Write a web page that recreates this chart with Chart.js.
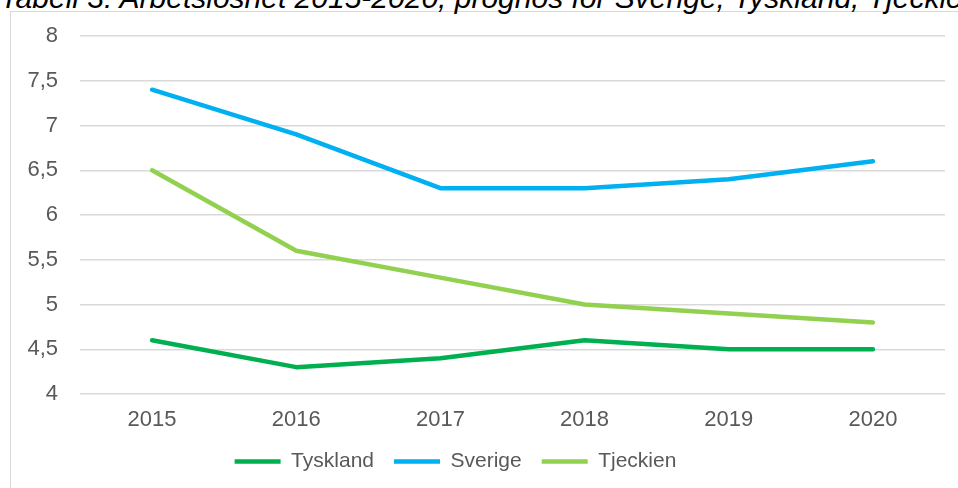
<!DOCTYPE html>
<html>
<head>
<meta charset="utf-8">
<script src="https://cdn.jsdelivr.net/npm/chart.js@4/dist/chart.umd.min.js"></script>
<style>
    html, body {
        margin: 0;
        padding: 0;
        background: #fff;
        overflow: hidden;
    }
    .wrap {
        position: relative;
        width: 958px;
        height: 488px;
        overflow: hidden;
    }
    .frame {
        position: absolute;
        left: 10px;
        top: 11px;
        width: 1000px;
        height: 600px;
        border: 1.5px solid #d9d9d9;
    }
    .title {
        position: absolute;
        left: 0;
        top: -17px;
        font-family: "Liberation Sans", Arial, sans-serif;
        font-style: italic;
        font-size: 30px;
        line-height: 30px;
        color: #000;
        white-space: nowrap;
    }
    canvas {
        position: absolute;
        left: 0;
        top: 0;
    }
</style>
</head>
<body>
<div class="wrap">
    <div class="frame"></div>
    <div class="title">Tabell 3: Arbetslöshet 2015-2020, prognos för Sverige, Tyskland, Tjeckien</div>
    <canvas id="lineChart" width="958" height="488"></canvas>
</div>

<script>
// Data
const years = ['2015', '2016', '2017', '2018', '2019', '2020'];
const tyskland = [4.6, 4.3, 4.4, 4.6, 4.5, 4.5];
const sverige = [7.4, 6.9, 6.3, 6.3, 6.4, 6.6];
const tjeckien = [6.5, 5.6, 5.3, 5.0, 4.9, 4.8];
const yMin = 4;
const yMax = 8;
const yStep = 0.5;

const textColor = '#595959';
const fontFamily = '"Liberation Sans", Arial, sans-serif';

function lineSet(label, data, color) {
    return {
        label: label,
        data: data,
        borderColor: color,
        backgroundColor: color,
        borderWidth: 4.5,
        borderCapStyle: 'round',
        borderJoinStyle: 'round',
        pointRadius: 0,
        pointHoverRadius: 0,
        tension: 0,
        fill: false
    };
}

// legend sits a bit left of the centre in the original
const legendShift = {
    id: 'legendShift',
    afterLayout: function(chart) {
        chart.legend.left -= 17;
        chart.legend.right -= 17;
    }
};

new Chart(document.getElementById('lineChart'), {
    type: 'line',
    data: {
        labels: years,
        datasets: [
            lineSet('Tyskland', tyskland, '#00B050'),
            lineSet('Sverige', sverige, '#00B0F0'),
            lineSet('Tjeckien', tjeckien, '#92D050')
        ]
    },
    options: {
        responsive: false,
        animation: false,
        layout: {
            padding: { top: 36, right: 13, bottom: 6, left: 0 }
        },
        plugins: {
            tooltip: { enabled: false },
            legend: {
                position: 'bottom',
                labels: {
                    usePointStyle: true,
                    pointStyle: 'line',
                    pointStyleWidth: 46,
                    padding: 20,
                    color: textColor,
                    font: { family: fontFamily, size: 21 }
                }
            }
        },
        scales: {
            x: {
                offset: true,
                grid: { display: false },
                border: { display: false },
                ticks: {
                    color: textColor,
                    padding: 5,
                    font: { family: fontFamily, size: 22 }
                },
                afterFit: function(scale) {
                    scale.height = 37;
                }
            },
            y: {
                min: yMin,
                max: yMax,
                border: { display: false },
                grid: {
                    color: '#d9d9d9',
                    lineWidth: 1.5,
                    drawTicks: false
                },
                ticks: {
                    stepSize: yStep,
                    color: textColor,
                    padding: 22,
                    font: { family: fontFamily, size: 22 },
                    callback: function(value) {
                        return String(value).replace('.', ',');
                    }
                },
                afterFit: function(scale) {
                    scale.width = 80;
                }
            }
        }
    },
    plugins: [legendShift]
});
</script>
</body>
</html>
